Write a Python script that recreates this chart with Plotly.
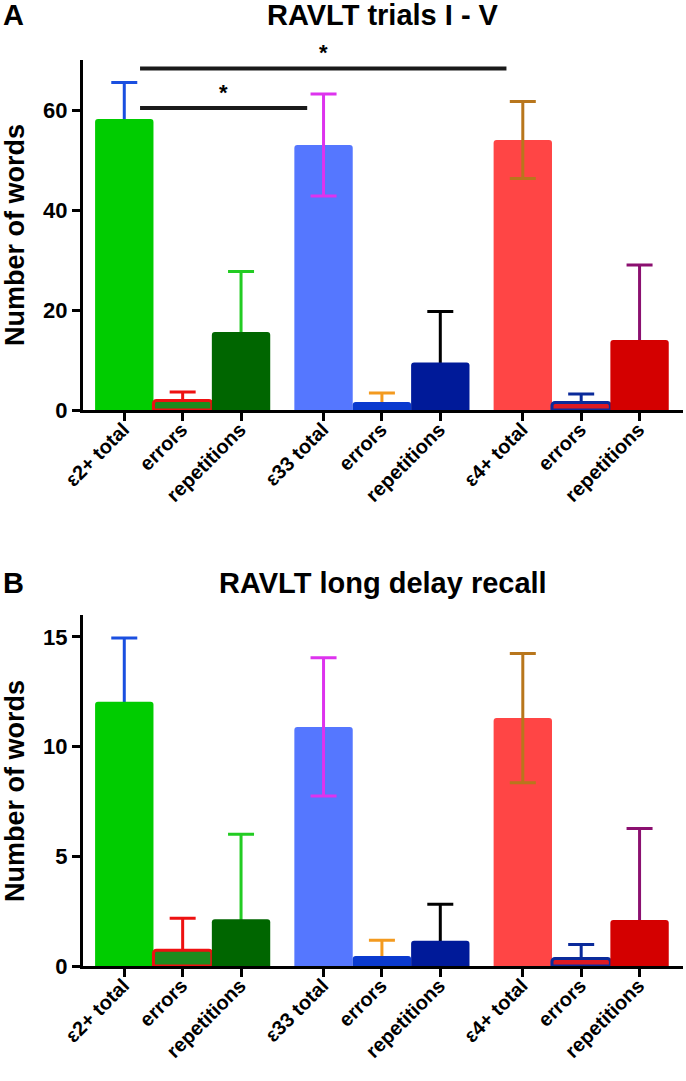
import plotly.graph_objects as go

# ---------------- data ----------------
categories = ["ε2+ total", "errors", "repetitions",
              "ε33 total", "errors", "repetitions",
              "ε4+ total", "errors", "repetitions"]

A_means = [58.2, 1.9, 15.6, 53.0, 1.6, 9.5, 54.0, 1.5, 14.0]
A_sd = [7.3, 1.7, 12.1, 10.2, 1.8, 10.2, 7.7, 1.7, 15.0]

B_means = [12.05, 0.72, 2.13, 10.9, 0.46, 1.15, 11.3, 0.34, 2.1]
B_sd = [2.9, 1.46, 3.87, 3.15, 0.71, 1.67, 2.95, 0.64, 4.17]

A_y_ticks = [0, 20, 40, 60]
B_y_ticks = [0, 5, 10, 15]

# significance brackets for panel A: (from bar index, to bar index, level)
sig_from = [0, 0]
sig_to = [3, 6]
sig_level = [60.4, 68.3]
sig_text = ["*", "*"]

# ---------------- style ----------------
fill_colors = ["#00cc00", "#1e8c1e", "#006600",
               "#5577ff", "#0a3acf", "#001a99",
               "#ff4545", "#dd1a22", "#d40000"]
line_colors = ["#00cc00", "#ee1111", "#006600",
               "#5577ff", "#0a3acf", "#001a99",
               "#ff4545", "#0a2a9a", "#d40000"]
line_widths = [0, 3, 0, 0, 0, 0, 0, 3, 0]
err_colors = ["#1a4fe0", "#ee1111", "#22cc22",
              "#dd33ee", "#f39a1f", "#000000",
              "#b8761c", "#0a2a9a", "#8b1070"]
err_on_top = [False, False, False, True, False, False, True, False, False]

group_gap = 0.413
x_pos = [(k // 3) * (3 + group_gap) + (k % 3) for k in range(len(categories))]

FONT = "Liberation Sans, Arial, Helvetica, sans-serif"
W = 686
H = 1081

fig = go.Figure()


def add_err(k, means, sds, xa, ya):
    fig.add_trace(go.Bar(
        x=[x_pos[k]], y=[means[k]], width=1,
        marker=dict(color="rgba(0,0,0,0)", line=dict(width=0)),
        error_y=dict(type="data", array=[sds[k]], symmetric=True,
                     color=err_colors[k], thickness=3, width=13),
        xaxis=xa, yaxis=ya, showlegend=False, hoverinfo="skip"))


def add_panel(means, sds, xa, ya):
    for k in range(len(categories)):
        if not err_on_top[k]:
            add_err(k, means, sds, xa, ya)
    fig.add_trace(go.Bar(
        x=x_pos, y=means, width=1,
        marker=dict(color=fill_colors,
                    line=dict(color=line_colors, width=line_widths),
                    cornerradius=3),
        xaxis=xa, yaxis=ya, showlegend=False))
    for k in range(len(categories)):
        if err_on_top[k]:
            add_err(k, means, sds, xa, ya)


add_panel(A_means, A_sd, "x", "y")
add_panel(B_means, B_sd, "x2", "y2")

PL = 83            # plot left in px
PW = 600           # plot width

x_range = [-0.707, 9.57]
xax = dict(range=x_range, tickmode="array", tickvals=x_pos, ticktext=categories,
           tickangle=-45, ticks="outside", ticklen=8, tickwidth=3, tickcolor="black",
           ticklabelstandoff=-11, ticklabelshift=-1,
           showline=True, linewidth=3, linecolor="black", showgrid=False,
           zeroline=False, automargin=False,
           tickfont=dict(family=FONT, size=20, color="black", weight="bold"))
yax = dict(ticks="outside", ticklen=8, tickwidth=3, tickcolor="black",
           showline=True, linewidth=3, linecolor="black", showgrid=False,
           zeroline=False, automargin=False,
           tickfont=dict(family=FONT, size=22, color="black", weight="bold"))


def py(p):
    return 1 - p / H


def px(p):
    return (p - PL) / PW


fig.update_layout(
    width=W, height=H,
    margin=dict(l=PL, r=W - PL - PW, t=0, b=0),
    paper_bgcolor="white", plot_bgcolor="white",
    barmode="overlay", showlegend=False,
    xaxis=dict(xax, domain=[0, 1], anchor="y"),
    yaxis=dict(yax, domain=[py(410), py(60)], range=[0, 70],
               tickvals=A_y_ticks, anchor="x"),
    xaxis2=dict(xax, domain=[0, 1], anchor="y2"),
    yaxis2=dict(yax, domain=[py(966), py(615)], range=[0, 16],
                tickvals=B_y_ticks, anchor="x2"),
)

# significance brackets
for f, t, lv, s in zip(sig_from, sig_to, sig_level, sig_text):
    x0 = x_pos[f] + 0.27
    x1 = x_pos[t] - 0.28
    fig.add_shape(type="line", xref="x", yref="y", x0=x0, x1=x1, y0=lv, y1=lv,
                  line=dict(color="#1a1a1a", width=4))
    fig.add_annotation(xref="x", yref="y", x=(x0 + x1) / 2, y=lv, text=s,
                       showarrow=False, yanchor="middle", yshift=16,
                       font=dict(family=FONT, size=22, color="black", weight="bold"))

# panel letters, titles, y titles
for letter, title, ty, ycen in [("A", "RAVLT trials I - V", 15, 235),
                                ("B", "RAVLT long delay recall", 583, 791)]:
    fig.add_annotation(xref="paper", yref="paper", x=px(13), y=py(ty),
                       text="<b>%s</b>" % letter, showarrow=False,
                       xanchor="center", yanchor="middle",
                       font=dict(family=FONT, size=29, color="black"))
    fig.add_annotation(xref="paper", yref="paper", x=0.5, y=py(ty),
                       text="<b>%s</b>" % title, showarrow=False,
                       xanchor="center", yanchor="middle",
                       font=dict(family=FONT, size=29, color="black"))
    fig.add_annotation(xref="paper", yref="paper", x=px(15), y=py(ycen),
                       text="<b>Number of words</b>", showarrow=False, textangle=-90,
                       xanchor="center", yanchor="middle",
                       font=dict(family=FONT, size=27, color="black"))

fig.write_html("out.html",
               config={"displayModeBar": False},
               post_script="document.body.style.margin='0px';"
                           "document.body.style.overflow='hidden';")
